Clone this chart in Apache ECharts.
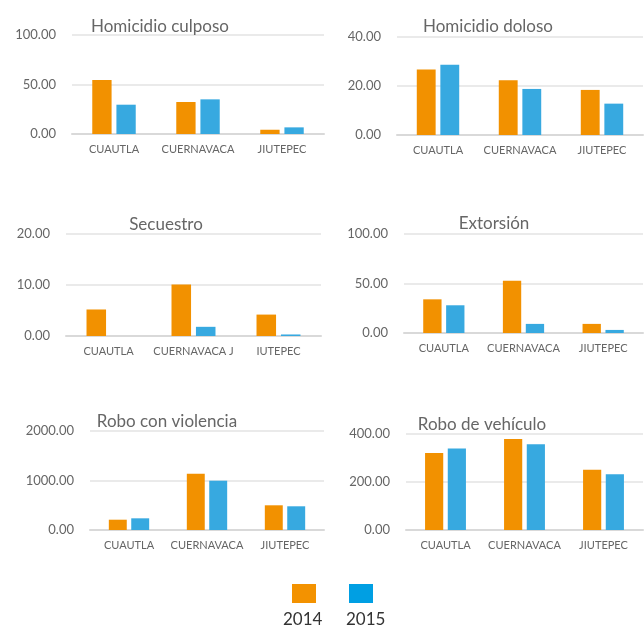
<!DOCTYPE html>
<html>
<head>
<meta charset="utf-8">
<script src="https://cdn.jsdelivr.net/npm/echarts@6/dist/echarts.min.js"></script>
<style>
  html, body { margin: 0; padding: 0; background: #fff; }
  #chart { width: 644px; height: 626px; }
</style>
</head>
<body>
<div id="chart"></div>
<script>
var municipios = ['CUAUTLA', 'CUERNAVACA', 'JIUTEPEC'];
var years = ['2014', '2015'];

var titulos = ['Homicidio culposo', 'Homicidio doloso', 'Secuestro', 'Extorsión', 'Robo con violencia', 'Robo de vehículo'];

// valores por delito: [2014, 2015] para cada municipio
var homCulposo2014 = [54.5, 32.3, 4.3];
var homCulposo2015 = [29.6, 35.0, 6.7];
var homDoloso2014 = [26.7, 22.3, 18.4];
var homDoloso2015 = [28.7, 18.8, 12.8];
var secuestro2014 = [5.2, 10.1, 4.2];
var secuestro2015 = [0, 1.8, 0.3];
var extorsion2014 = [34.0, 52.8, 9.2];
var extorsion2015 = [28.0, 9.2, 3.1];
var roboViol2014 = [208, 1137, 499];
var roboViol2015 = [236, 996, 479];
var roboVeh2014 = [321, 379, 251];
var roboVeh2015 = [340, 357, 232];

var ejeMax = [100, 40, 20, 100, 2000, 400];
var ejeIntervalo = [50, 20, 10, 50, 1000, 200];

var datos2014 = [homCulposo2014, homDoloso2014, secuestro2014, extorsion2014, roboViol2014, roboVeh2014];
var datos2015 = [homCulposo2015, homDoloso2015, secuestro2015, extorsion2015, roboViol2015, roboVeh2015];

var gris = '#666';
var fuente = 'Lato';

var grids = [
    {left: 72, top: 35, width: 252, height: 99},
    {left: 397, top: 37, width: 246, height: 98},
    {left: 66, top: 234, width: 255, height: 102},
    {left: 404, top: 234, width: 239, height: 99},
    {left: 90, top: 431, width: 234, height: 99},
    {left: 406, top: 434, width: 237, height: 96}
];
var titulosPos = [[155, 13], [483, 13], [161, 211], [489, 210], [162, 408], [477, 411]];

var myChart = echarts.init(document.getElementById('chart'));

var title = [], xAxis = [], yAxis = [], series = [];
for (var i = 0; i < 6; i++) {
    title.push({
        text: titulos[i],
        left: titulosPos[i][0],
        top: titulosPos[i][1],
        textAlign: 'center',
        textStyle: {color: gris, fontFamily: fuente, fontSize: 17, fontWeight: 'normal'}
    });
    xAxis.push({
        type: 'category',
        gridIndex: i,
        data: municipios,
        axisTick: {show: false},
        axisLine: {lineStyle: {color: '#d9d9d9', width: 2}},
        axisLabel: {
            color: gris,
            fontFamily: fuente,
            fontSize: 11,
            margin: 10,
            interval: 0,
            // en el panel de Secuestro la J de JIUTEPEC quedó junto a CUERNAVACA
            formatter: i === 2 ? function (v) {
                if (v === 'CUERNAVACA') return 'CUERNAVACA J';
                if (v === 'JIUTEPEC') return 'IUTEPEC';
                return v;
            } : null
        }
    });
    yAxis.push({
        type: 'value',
        gridIndex: i,
        min: 0,
        max: ejeMax[i],
        interval: ejeIntervalo[i],
        axisLine: {show: false},
        axisTick: {show: false},
        splitLine: {lineStyle: {color: '#e3e3e3', width: 1.5}},
        axisLabel: {
            color: gris,
            fontFamily: fuente,
            fontSize: 13,
            margin: 16,
            formatter: function (v) { return v.toFixed(2); }
        }
    });
    series.push({
        name: '2014',
        type: 'bar',
        xAxisIndex: i,
        yAxisIndex: i,
        data: datos2014[i],
        barWidth: '23%',
        barGap: '25%',
        itemStyle: {color: '#f29100'}
    });
    series.push({
        name: '2015',
        type: 'bar',
        xAxisIndex: i,
        yAxisIndex: i,
        data: datos2015[i],
        barWidth: '23%',
        barGap: '25%',
        itemStyle: {color: '#37a9e0'}
    });
}

option = {
    backgroundColor: '#fff',
    animation: false,
    title: title,
    grid: grids,
    xAxis: xAxis,
    yAxis: yAxis,
    legend: {
        data: [
            {name: '2014', icon: 'rect', itemStyle: {color: '#f39200'}},
            {name: '2015', icon: 'rect', itemStyle: {color: '#009fe3'}}
        ],
        left: 292,
        top: 584,
        itemWidth: 24,
        itemHeight: 19,
        itemGap: 33,
        padding: 0,
        formatter: function () { return ''; },
        selectedMode: false
    },
    graphic: [
        {type: 'text', left: 283, top: 611, style: {text: years[0], fill: '#333', font: '17px Lato'}},
        {type: 'text', left: 346, top: 611, style: {text: years[1], fill: '#333', font: '17px Lato'}}
    ],
    series: series
};

myChart.setOption(option);
</script>
</body>
</html>
